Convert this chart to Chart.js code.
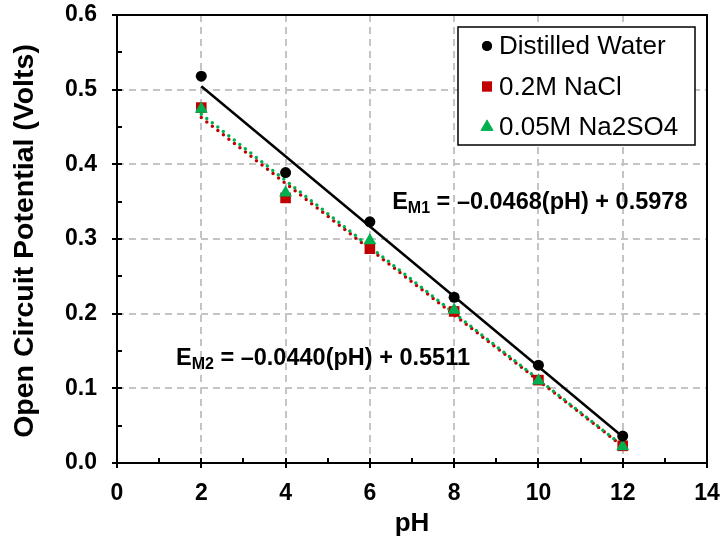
<!DOCTYPE html>
<html>
<head>
<meta charset="utf-8">
<script src="https://cdn.jsdelivr.net/npm/chart.js@4.4.1/dist/chart.umd.min.js"></script>
<style>
body { margin: 0; background: #fff; }
</style>
</head>
<body>
<canvas id="ocp-chart" width="721" height="542"></canvas>
<script>
// values
const phValues = [2, 4, 6, 8, 10, 12];
const distilledWater = [0.518, 0.389, 0.323, 0.222, 0.131, 0.036];
const naclValues = [0.476, 0.355, 0.287, 0.203, 0.111, 0.023];
const na2so4Values = [0.474, 0.362, 0.298, 0.205, 0.110, 0.022];
const seriesNames = ['Distilled Water', '0.2M NaCl', '0.05M Na2SO4'];
const seriesColors = ['#000000', '#c00000', '#00b050'];
const seriesStyles = ['circle', 'rect', 'triangle'];
const xTicks = [0, 2, 4, 6, 8, 10, 12, 14];
const yTicks = [0.0, 0.1, 0.2, 0.3, 0.4, 0.5, 0.6];
const eqM1 = { sub: 'M1', rest: ' = \u20130.0468(pH) + 0.5978' };
const eqM2 = { sub: 'M2', rest: ' = \u20130.0440(pH) + 0.5511' };

const FONT = "'Liberation Sans', Arial, sans-serif";
Chart.defaults.font.family = FONT;
Chart.defaults.color = '#000';

function toPoints(xs, ys) {
    return xs.map((x, i) => ({ x: x, y: ys[i] }));
}

// least squares trendline, like the spreadsheet one
function fitLine(xs, ys) {
    let n = xs.length;
    let mx = xs.reduce((a, b) => a + b, 0) / n;
    let my = ys.reduce((a, b) => a + b, 0) / n;
    let sxy = 0, sxx = 0;
    for (let i = 0; i < n; i++) {
        sxy += (xs[i] - mx) * (ys[i] - my);
        sxx += (xs[i] - mx) * (xs[i] - mx);
    }
    let slope = sxy / sxx;
    let icpt = my - slope * mx;
    return [xs[0], xs[n - 1]].map(x => ({ x: x, y: icpt + slope * x }));
}

// keep the plot box where the reference has it
function noPadding(scale) {
    scale.paddingLeft = 0;
    scale.paddingRight = 0;
    scale.paddingTop = 0;
    scale.paddingBottom = 0;
}

const decorations = {
    id: 'decorations',
    afterDraw(chart) {
        const ctx = chart.ctx;
        const xs = chart.scales.x;
        const ys = chart.scales.y;
        const left = xs.getPixelForValue(xs.min);
        const right = xs.getPixelForValue(xs.max);
        const top = ys.getPixelForValue(ys.max);
        const bottom = ys.getPixelForValue(ys.min);
        ctx.save();

        // frame
        ctx.strokeStyle = '#000';
        ctx.lineWidth = 2;
        ctx.strokeRect(left, top, right - left, bottom - top);

        // tick marks, major cross the axis, minor point inward
        ctx.beginPath();
        for (let v = 0; v <= 14; v++) {
            let px = Math.round(xs.getPixelForValue(v));
            let major = v % 2 === 0;
            ctx.moveTo(px, bottom + (major ? 5 : 0));
            ctx.lineTo(px, bottom - 5);
        }
        for (let k = 0; k <= 12; k++) {
            let py = Math.round(ys.getPixelForValue(k * 0.05));
            let major = k % 2 === 0;
            ctx.moveTo(left - (major ? 5 : 0), py);
            ctx.lineTo(left + 5, py);
        }
        ctx.stroke();

        // axis titles
        ctx.fillStyle = '#000';
        ctx.textAlign = 'center';
        ctx.textBaseline = 'middle';
        ctx.font = 'bold 26px ' + FONT;
        ctx.fillText('pH', (left + right) / 2, 524);
        ctx.save();
        ctx.font = 'bold 28.5px ' + FONT;
        ctx.translate(25, (top + bottom) / 2 + 2);
        ctx.rotate(-Math.PI / 2);
        ctx.fillText('Open Circuit Potential (Volts)', 0, 0);
        ctx.restore();

        // trendline equations
        function equation(eq, x, y) {
            ctx.textAlign = 'left';
            ctx.textBaseline = 'alphabetic';
            ctx.font = 'bold 23.5px ' + FONT;
            ctx.fillText('E', x, y);
            let w = ctx.measureText('E').width;
            ctx.font = 'bold 16px ' + FONT;
            ctx.fillText(eq.sub, x + w, y + 4);
            w += ctx.measureText(eq.sub).width;
            ctx.font = 'bold 23.5px ' + FONT;
            ctx.fillText(eq.rest, x + w, y);
        }
        equation(eqM1, xs.getPixelForValue(6.53), ys.getPixelForValue(0.34));
        equation(eqM2, xs.getPixelForValue(1.4), ys.getPixelForValue(0.131));

        // legend box
        let lx = 458, ly = 27, lw = 237, lh = 118;
        ctx.fillStyle = '#fff';
        ctx.fillRect(lx, ly, lw, lh);
        ctx.strokeStyle = '#000';
        ctx.lineWidth = 1.5;
        ctx.strokeRect(lx, ly, lw, lh);
        ctx.font = '26px ' + FONT;
        ctx.textBaseline = 'middle';
        ctx.textAlign = 'left';
        const legendRadius = { circle: 5, rect: 7, triangle: 7.5 };
        seriesNames.forEach((name, i) => {
            let cy = ly + 19 + i * 40.5;
            ctx.fillStyle = seriesColors[i];
            Chart.helpers.drawPoint(ctx, {
                pointStyle: seriesStyles[i],
                radius: legendRadius[seriesStyles[i]],
                rotation: 0,
                borderWidth: 0
            }, 487, cy);
            ctx.fill();
            ctx.fillStyle = '#000';
            ctx.fillText(name, 499, cy + 1);
        });
        ctx.restore();
    }
};

const scatterBase = { showLine: false, borderWidth: 0 };

new Chart(document.getElementById('ocp-chart').getContext('2d'), {
    type: 'scatter',
    data: {
        datasets: [
            Object.assign({}, scatterBase, {
                label: seriesNames[0],
                data: toPoints(phValues, distilledWater),
                pointStyle: 'circle', pointRadius: 5.5,
                backgroundColor: seriesColors[0], borderColor: seriesColors[0]
            }),
            Object.assign({}, scatterBase, {
                label: seriesNames[2],
                data: toPoints(phValues, na2so4Values),
                pointStyle: 'triangle', pointRadius: 7.5,
                backgroundColor: seriesColors[2], borderColor: seriesColors[2]
            }),
            Object.assign({}, scatterBase, {
                label: seriesNames[1],
                data: toPoints(phValues, naclValues),
                pointStyle: 'rect', pointRadius: 7.5,
                backgroundColor: seriesColors[1], borderColor: seriesColors[1]
            }),
            {
                label: 'fit water',
                data: fitLine(phValues, distilledWater),
                showLine: true, pointRadius: 0,
                borderColor: '#000', borderWidth: 2.5
            },
            {
                label: 'fit na2so4',
                data: fitLine(phValues, na2so4Values),
                showLine: true, pointRadius: 0,
                borderColor: seriesColors[2], borderWidth: 3.5,
                borderDash: [0, 7], borderCapStyle: 'round'
            },
            {
                label: 'fit nacl',
                data: fitLine(phValues, naclValues),
                showLine: true, pointRadius: 0,
                borderColor: seriesColors[1], borderWidth: 3.5,
                borderDash: [0, 7], borderCapStyle: 'round'
            }
        ]
    },
    options: {
        responsive: false,
        animation: false,
        layout: { padding: { left: 0, right: 14, top: 15, bottom: 0 } },
        plugins: {
            legend: { display: false },
            tooltip: { enabled: false }
        },
        scales: {
            x: {
                type: 'linear',
                min: 0, max: 14,
                afterFit(scale) { scale.height = 79; noPadding(scale); },
                afterBuildTicks(scale) { scale.ticks = xTicks.map(v => ({ value: v })); },
                ticks: { font: { size: 23, weight: 'bold' }, padding: 17, maxRotation: 0 },
                grid: { color: '#c4c4c4', lineWidth: 2, drawTicks: false },
                border: { display: false, dash: [7, 5] }
            },
            y: {
                type: 'linear',
                min: 0, max: 0.6,
                afterFit(scale) { scale.width = 117; noPadding(scale); },
                afterBuildTicks(scale) { scale.ticks = yTicks.map(v => ({ value: v })); },
                ticks: {
                    font: { size: 23, weight: 'bold' }, padding: 20,
                    callback: v => v.toFixed(1)
                },
                grid: { color: '#c4c4c4', lineWidth: 2, drawTicks: false },
                border: { display: false, dash: [7, 5] }
            }
        }
    },
    plugins: [decorations]
});
</script>
</body>
</html>
